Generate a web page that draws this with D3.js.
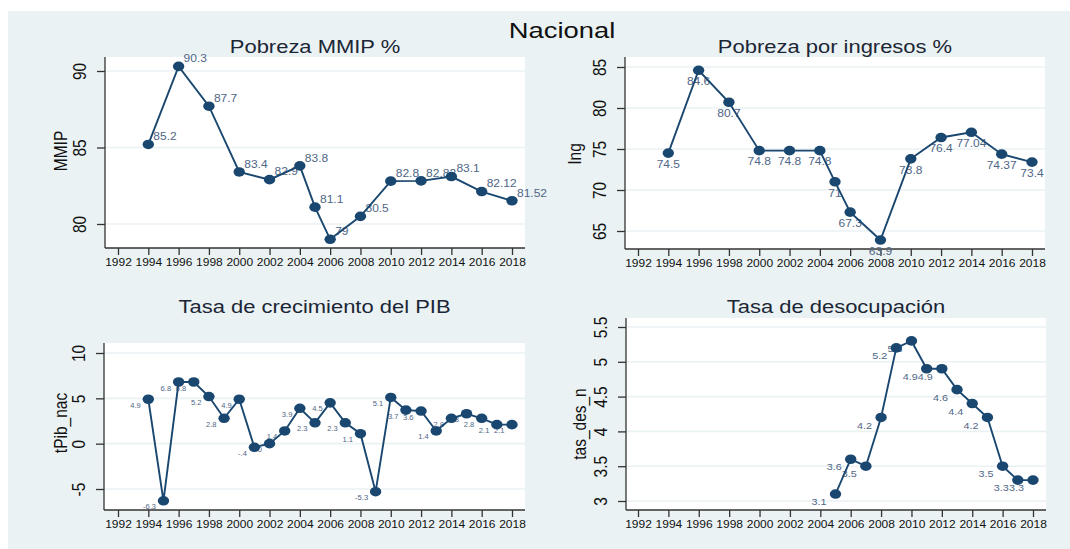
<!DOCTYPE html>
<html>
<head>
<meta charset="utf-8">
<script src="https://cdn.jsdelivr.net/npm/d3@7"></script>
<style>
  body { margin: 0; background: #fff; }
  svg { display: block; font-family: "Liberation Sans", Arial, sans-serif; }
</style>
</head>
<body>
<svg width="1070" height="549"></svg>
<script>
// data
var mmipYears = [1994, 1996, 1998, 2000, 2002, 2004, 2005, 2006, 2008, 2010, 2012, 2014, 2016, 2018];
var mmipValues = [85.2, 90.3, 87.7, 83.4, 82.9, 83.8, 81.1, 79, 80.5, 82.8, 82.82, 83.1, 82.12, 81.52];

var ingYears = [1994, 1996, 1998, 2000, 2002, 2004, 2005, 2006, 2008, 2010, 2012, 2014, 2016, 2018];
var ingValues = [74.5, 84.6, 80.7, 74.8, 74.8, 74.8, 71, 67.3, 63.9, 73.8, 76.4, 77.04, 74.37, 73.4];

var pibYears = [1994, 1995, 1996, 1997, 1998, 1999, 2000, 2001, 2002, 2003, 2004, 2005, 2006,
                2007, 2008, 2009, 2010, 2011, 2012, 2013, 2014, 2015, 2016, 2017, 2018];
var pibValues = [4.9, -6.3, 6.8, 6.8, 5.2, 2.8, 4.9, -0.4, 0, 1.4, 3.9, 2.3, 4.5,
                 2.3, 1.1, -5.3, 5.1, 3.7, 3.6, 1.4, 2.8, 3.3, 2.8, 2.1, 2.1];

var desYears = [2005, 2006, 2007, 2008, 2009, 2010, 2011, 2012, 2013, 2014, 2015, 2016, 2017, 2018];
var desValues = [3.1, 3.6, 3.5, 4.2, 5.2, 5.3, 4.9, 4.9, 4.6, 4.4, 4.2, 3.5, 3.3, 3.3];

var xTickYears = [1992, 1994, 1996, 1998, 2000, 2002, 2004, 2006, 2008, 2010, 2012, 2014, 2016, 2018];
var mmipTicks = [80, 85, 90];
var ingTicks = [65, 70, 75, 80, 85];
var pibTicks = [-5, 0, 5, 10];
var desTicks = [3, 3.5, 4, 4.5, 5, 5.5];

var mainTitle = "Nacional";

// the source picture is stretched sideways, so text and markers get widened
var SX = 1.2;
var navy = "#1a476f";
var labelColor = "#4f6686";
var bg = "#eaf2f3";

var svg = d3.select("svg");

svg.append("rect")
    .attr("x", 8).attr("y", 11)
    .attr("width", 1062).attr("height", 538)
    .attr("fill", bg);

svg.append("text")
    .attr("transform", "translate(562,38) scale(" + SX + ",1)")
    .attr("text-anchor", "middle")
    .attr("font-size", 22.8)
    .attr("fill", "#111")
    .text(mainTitle);

// Stata style number labels: -0.4 -> -.4
function stataFmt(v)
{
    return String(v).replace(/^(-?)0\./, "$1.");
}

var panels = [
    {
        title: "Pobreza MMIP %", ytitle: "MMIP", years: mmipYears, values: mmipValues, ticks: mmipTicks,
        left: 105, right: 525, top: 57, bottom: 248, x0: 118, x1: 512,
        yA: 80, pA: 224, yB: 90, pB: 71, titleY: 53, ytitleX: 67, ytitleY: 151,
        lab: { dx: 5, dy: -4.2, anchor: "start", size: 10 }
    },
    {
        title: "Pobreza por ingresos %", ytitle: "Ing", years: ingYears, values: ingValues, ticks: ingTicks,
        left: 625, right: 1045, top: 57, bottom: 249, x0: 638, x1: 1032,
        yA: 65, pA: 231, yB: 85, pB: 67, titleY: 53, ytitleX: 581, ytitleY: 154,
        lab: { dx: 0, dy: 14.7, anchor: "middle", size: 10 }
    },
    {
        title: "Tasa de crecimiento del PIB", ytitle: "tPib_nac", years: pibYears, values: pibValues, ticks: pibTicks,
        left: 104, right: 525, top: 343, bottom: 510, x0: 118, x1: 512,
        yA: -5, pA: 489, yB: 10, pB: 353, titleY: 313, ytitleX: 67, ytitleY: 423,
        lab: { dx: -7.5, dy: 8.5, anchor: "end", size: 6.3 }
    },
    {
        title: "Tasa de desocupación", ytitle: "tas_des_n", years: desYears, values: desValues, ticks: desTicks,
        left: 626, right: 1046, top: 318, bottom: 510, x0: 638, x1: 1033,
        yA: 3, pA: 501, yB: 5.5, pB: 327, titleY: 313, ytitleX: 586, ytitleY: 424,
        lab: { dx: -9, dy: 11.2, anchor: "end", size: 9 }
    }
];

panels.forEach(drawPanel);

function drawPanel(p)
{
    var x = d3.scaleLinear().domain([1992, 2018]).range([p.x0, p.x1]);
    var y = d3.scaleLinear().domain([p.yA, p.yB]).range([p.pA, p.pB]);
    var g = svg.append("g");

    // plot region
    g.append("rect")
        .attr("x", p.left).attr("y", p.top)
        .attr("width", p.right - p.left).attr("height", p.bottom - p.top)
        .attr("fill", "#fff");

    // gridlines
    g.append("g").selectAll("line")
        .data(p.ticks)
        .enter().append("line")
        .attr("x1", p.left).attr("x2", p.right)
        .attr("y1", function(d) { return y(d); })
        .attr("y2", function(d) { return y(d); })
        .attr("stroke", bg)
        .attr("stroke-width", 1.6);

    // x axis
    var xAxis = g.append("g")
        .attr("transform", "translate(0," + p.bottom + ")")
        .call(d3.axisBottom(x).tickValues(xTickYears).tickFormat(d3.format("d")).tickSize(7).tickPadding(4));
    xAxis.select(".domain").remove();
    xAxis.selectAll(".tick line").attr("stroke", "#333").attr("stroke-width", 1.3);
    xAxis.selectAll(".tick text")
        .attr("font-family", "Liberation Sans, Arial, sans-serif")
        .attr("font-size", 10)
        .attr("fill", "#111")
        .attr("x", 0)
        .attr("transform", "scale(" + SX + ",1)");
    g.append("line")
        .attr("x1", p.left).attr("x2", p.right)
        .attr("y1", p.bottom).attr("y2", p.bottom)
        .attr("stroke", "#333").attr("stroke-width", 1.3);

    // y axis
    var yAxis = g.append("g")
        .attr("transform", "translate(" + p.left + ",0)")
        .call(d3.axisLeft(y).tickValues(p.ticks).tickFormat(function(d) { return String(d); }).tickSize(8));
    yAxis.select(".domain").remove();
    yAxis.selectAll(".tick line").attr("stroke", "#333").attr("stroke-width", 1.3);
    yAxis.selectAll(".tick text")
        .attr("x", null).attr("dy", null)
        .attr("font-family", "Liberation Sans, Arial, sans-serif")
        .attr("font-size", 15.5)
        .attr("fill", "#111")
        .attr("text-anchor", "middle")
        .attr("transform", "translate(-19,0) scale(" + SX + ",1) rotate(-90)");
    g.append("line")
        .attr("x1", p.left).attr("x2", p.left)
        .attr("y1", p.top).attr("y2", p.bottom)
        .attr("stroke", "#333").attr("stroke-width", 1.3);

    // titles
    g.append("text")
        .attr("transform", "translate(" + ((p.left + p.right) / 2) + "," + p.titleY + ") scale(" + SX + ",1)")
        .attr("text-anchor", "middle")
        .attr("font-size", 18.3)
        .attr("fill", "#1c2636")
        .text(p.title);
    g.append("text")
        .attr("transform", "translate(" + p.ytitleX + "," + p.ytitleY + ") scale(" + SX + ",1) rotate(-90)")
        .attr("text-anchor", "middle")
        .attr("font-size", 15.5)
        .attr("fill", "#111")
        .text(p.ytitle);

    var pts = p.years.map(function(yr, i) { return { year: yr, value: p.values[i] }; });

    // marker labels
    g.append("g").selectAll("text")
        .data(pts)
        .enter().append("text")
        .attr("transform", function(d)
        {
            return "translate(" + (x(d.year) + p.lab.dx) + "," + (y(d.value) + p.lab.dy) + ") scale(" + SX + ",1)";
        })
        .attr("text-anchor", p.lab.anchor)
        .attr("font-size", p.lab.size)
        .attr("fill", labelColor)
        .text(function(d) { return stataFmt(d.value); });

    // connecting line
    var line = d3.line()
        .x(function(d) { return x(d.year); })
        .y(function(d) { return y(d.value); });
    g.append("path")
        .datum(pts)
        .attr("d", line)
        .attr("fill", "none")
        .attr("stroke", navy)
        .attr("stroke-width", 1.9);

    // markers
    g.append("g").selectAll("ellipse")
        .data(pts)
        .enter().append("ellipse")
        .attr("cx", function(d) { return x(d.year); })
        .attr("cy", function(d) { return y(d.value); })
        .attr("rx", 5.7)
        .attr("ry", 4.8)
        .attr("fill", navy);
}
</script>
</body>
</html>
